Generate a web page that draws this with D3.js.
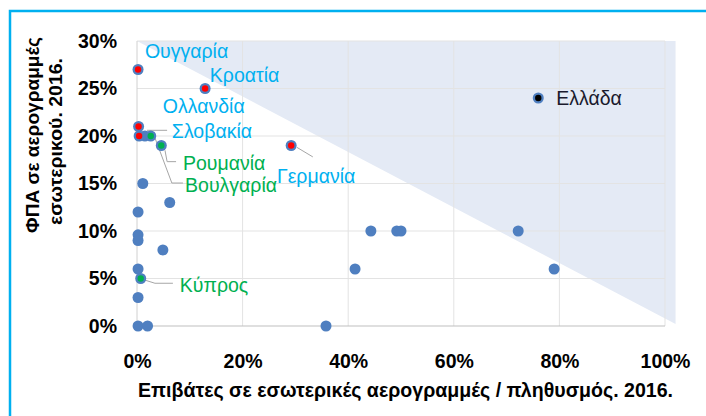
<!DOCTYPE html>
<html><head><meta charset="utf-8">
<script src="https://cdn.jsdelivr.net/npm/d3@7"></script>
<style>body{margin:0;background:#fff;}svg{display:block;font-family:"Liberation Sans",Arial,sans-serif;}</style>
</head><body><svg id="c" width="706" height="416"></svg>
<script>
// ---- data ----
const pointX = [0.2, 12.9, 0.3, 0.4, 1.5, 2.6, 4.6, 29.2, 76, 1.1, 6.2, 0.2, 0.2, 0.2, 4.9, 0.2, 0.7, 0.2, 0.2, 2.0, 35.8, 41.3, 44.3, 49.2, 50.0, 72.2, 79.0];
const pointY = [27, 25, 21, 20, 20, 20, 19, 19, 24, 15, 13, 12, 9.6, 9, 8, 6, 5, 3, 0, 0, 0, 6, 10, 10, 10, 10, 6];
const pointGroup = ["blue","blue","blue","blue","","green","green","blue","greece","","","","","","","","green","","","","","","","","","",""];
const xTicks = [0, 20, 40, 60, 80, 100];
const yTicks = [0, 5, 10, 15, 20, 25, 30];
const labelNames = ["Ουγγαρία","Κροατία","Ολλανδία","Σλοβακία","Ρουμανία","Βουλγαρία","Γερμανία","Κύπρος","Ελλάδα"];
const labelGroup = ["blue","blue","blue","blue","green","green","blue","green","greece"];
const labelX = [1.5, 13.8, 4.9, 6.6, 8.7, 9.1, 26.5, 8.1, 79.4];
const labelY = [28.2, 25.7, 22.4, 19.8, 16.4, 14.1, 15.05, 3.6, 23.3];
const leaders = [
  [[1.9,20.6],[5.7,20.6]],
  [[5.3,18.5],[5.7,17.3],[7.4,17.3]],
  [[3.2,20.1],[6.6,15.05],[8.7,15.05]],
  [[30.3,18.8],[33.3,17.8]],
  [[1.1,4.9],[3.4,4.5],[6.8,4.5]]
];
const shadeRegion = [[0,30],[102,30],[102,0.2]];
const xTitle = "Επιβάτες σε εσωτερικές αερογραμμές / πληθυσμός. 2016.";
const yTitle = ["ΦΠΑ σε αερογραμμές","εσωτερικού. 2016."];

// ---- styles ----
const markColor = {blue:"#ff0000", green:"#00b050", greece:"#000000"};
const textColor = {blue:"#00b0f0", green:"#00b050", greece:"#1a1a2e"};

const svg = d3.select("#c");
const x = d3.scaleLinear().domain([0,100]).range([137,665]);
const y = d3.scaleLinear().domain([0,30]).range([326,41]);

// frame
svg.append("rect").attr("x",10).attr("y",11).attr("width",800).attr("height",500)
  .attr("fill","none").attr("stroke","#00b0f0").attr("stroke-width",2.5);

// shaded region
svg.append("path").attr("d", d3.line().x(d=>x(d[0])).y(d=>y(d[1]))(shadeRegion)+"Z")
  .attr("fill","#e4eaf5");

// gridlines
svg.append("g").selectAll("line").data(yTicks.slice(1)).join("line")
  .attr("x1",x(0)).attr("x2",x(100)).attr("y1",d=>y(d)).attr("y2",d=>y(d))
  .attr("stroke","#e3e3e3").attr("stroke-width",1);
svg.append("g").selectAll("line").data(xTicks.slice(1)).join("line")
  .attr("y1",y(0)).attr("y2",y(30)).attr("x1",d=>x(d)).attr("x2",d=>x(d))
  .attr("stroke","#e3e3e3").attr("stroke-width",1);
// axis lines
svg.append("line").attr("x1",x(0)).attr("x2",x(100)).attr("y1",y(0)).attr("y2",y(0)).attr("stroke","#bfbfbf");
svg.append("line").attr("x1",x(0)).attr("x2",x(0)).attr("y1",y(0)).attr("y2",y(30)).attr("stroke","#d0d0d0");

// axes (text only)
const xAxis = svg.append("g").attr("transform",`translate(0,${y(0)})`)
  .call(d3.axisBottom(x).tickValues(xTicks).tickFormat(d=>d+"%").tickSize(0).tickPadding(28));
const yAxis = svg.append("g").attr("transform",`translate(${x(0)},0)`)
  .call(d3.axisLeft(y).tickValues(yTicks).tickFormat(d=>d+"%").tickSize(0).tickPadding(20));
[xAxis,yAxis].forEach(a=>{
  a.select(".domain").remove();
  a.selectAll("text").attr("font-family","Liberation Sans, Arial").attr("font-size",19.5)
   .attr("font-weight","bold").attr("fill","#000");
});

// leader lines
svg.append("g").selectAll("path").data(leaders).join("path")
  .attr("d", d3.line().x(d=>x(d[0])).y(d=>y(d[1])))
  .attr("fill","none").attr("stroke","#a6a6a6").attr("stroke-width",1);

// points
const pts = pointX.map((v,i)=>({x:v,y:pointY[i],g:pointGroup[i]}));
svg.append("g").selectAll("circle").data(pts).join("circle")
  .attr("cx",d=>x(d.x)).attr("cy",d=>y(d.y)).attr("r",5.5).attr("fill","#4f7fc0");
svg.append("g").selectAll("circle").data(pts.filter(d=>d.g)).join("circle")
  .attr("cx",d=>x(d.x)).attr("cy",d=>y(d.y)).attr("r",3.2).attr("fill",d=>markColor[d.g]);

// labels
svg.append("g").selectAll("text").data(labelNames).join("text")
  .attr("x",(d,i)=>x(labelX[i])).attr("y",(d,i)=>y(labelY[i]))
  .attr("font-size",19.5).attr("fill",(d,i)=>textColor[labelGroup[i]]).text(d=>d);

// titles
svg.append("text").attr("x",138).attr("y",397)
  .attr("textLength",535).attr("lengthAdjust","spacingAndGlyphs")
  .attr("font-size",19.5).attr("font-weight","bold").text(xTitle);
const yCenters = [135, 141.5], yLens = [196, 167];
svg.append("g").attr("transform","rotate(-90)").selectAll("text").data(yTitle).join("text")
  .attr("x",(d,i)=>-yCenters[i]-yLens[i]/2).attr("y",(d,i)=>39+i*23)
  .attr("textLength",(d,i)=>yLens[i]).attr("lengthAdjust","spacingAndGlyphs")
  .attr("font-size",18.5).attr("font-weight","bold").text(d=>d);
</script></body></html>
